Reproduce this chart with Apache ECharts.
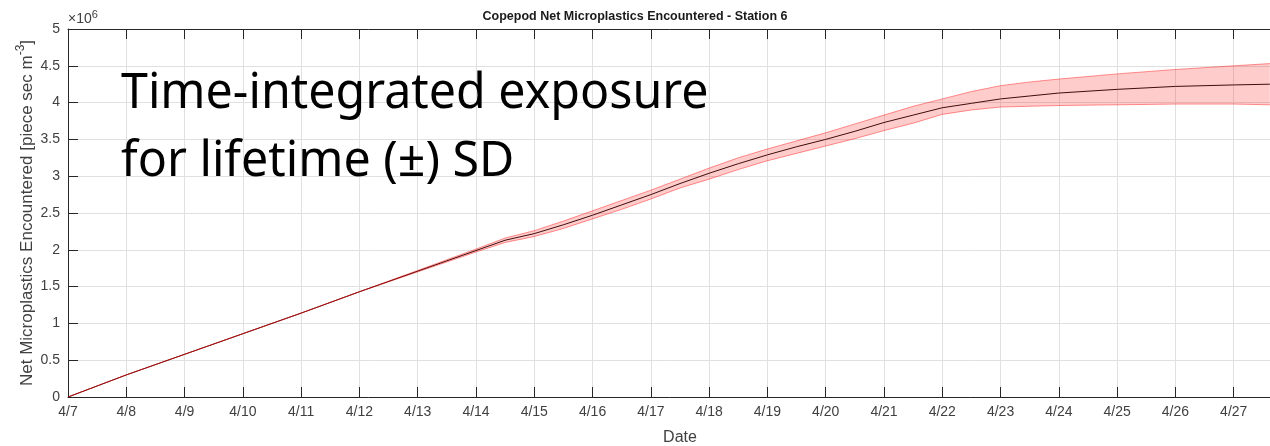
<!DOCTYPE html>
<html>
<head>
<meta charset="utf-8">
<script src="https://cdn.jsdelivr.net/npm/echarts@6/dist/echarts.min.js"></script>
<style>
  html, body { margin: 0; padding: 0; background: #fff; }
  #chart { width: 1270px; height: 446px; }
</style>
</head>
<body>
<div id="chart"></div>
<script>
// Days elapsed since 4/7 00:00
const dayOffset = [0, 1, 2, 3, 4, 5, 6, 7, 7.5, 8, 8.5, 9, 9.5, 10, 10.5, 11, 11.5, 12, 12.5, 13, 13.5, 14, 14.5, 15, 15.5, 16, 16.5, 17, 18, 19, 20, 20.62];
// Mean net microplastics encountered (x10^6 piece sec m^-3)
const meanExposure = [0, 0.30, 0.58, 0.86, 1.14, 1.43, 1.71, 1.99, 2.13, 2.22, 2.34, 2.47, 2.61, 2.75, 2.90, 3.04, 3.17, 3.29, 3.40, 3.50, 3.61, 3.73, 3.83, 3.93, 3.99, 4.05, 4.09, 4.13, 4.18, 4.22, 4.24, 4.25];
// Mean + 1 SD
const upperSD = [0, 0.30, 0.58, 0.86, 1.14, 1.43, 1.72, 2.01, 2.16, 2.26, 2.39, 2.53, 2.67, 2.81, 2.96, 3.11, 3.25, 3.37, 3.48, 3.59, 3.71, 3.83, 3.95, 4.05, 4.15, 4.23, 4.28, 4.32, 4.39, 4.45, 4.50, 4.53];
// Mean - 1 SD
const lowerSD = [0, 0.30, 0.58, 0.86, 1.14, 1.43, 1.70, 1.97, 2.10, 2.18, 2.29, 2.42, 2.55, 2.69, 2.84, 2.96, 3.09, 3.21, 3.31, 3.41, 3.51, 3.62, 3.72, 3.84, 3.90, 3.94, 3.95, 3.96, 3.97, 3.98, 3.98, 3.97];

const startMonth = 4, startDay = 7;
const yTickLabels = ['0', '0.5', '1', '1.5', '2', '2.5', '3', '3.5', '4', '4.5', '5'];

const pairs = ys => dayOffset.map((d, i) => [d, ys[i]]);

const axisInk = '#262626';
const labelInk = '#404040';
const gridInk = '#e0e0e0';
const fontFam = '"Liberation Sans", Arial, Helvetica, sans-serif';

// Translucent ±SD envelope: upper edge forward, lower edge back, mapped through the axes
function renderBand(params, api) {
  const pts = [];
  for (let i = 0; i < dayOffset.length; i++) pts.push(api.coord([dayOffset[i], upperSD[i]]));
  for (let i = dayOffset.length - 1; i >= 0; i--) pts.push(api.coord([dayOffset[i], lowerSD[i]]));
  return {
    type: 'polygon',
    shape: { points: pts },
    style: { fill: 'rgba(255,0,0,0.2)', stroke: null },
    clipPath: {
      type: 'rect',
      shape: {
        x: params.coordSys.x, y: params.coordSys.y,
        width: params.coordSys.width, height: params.coordSys.height
      }
    }
  };
}

const chart = echarts.init(document.getElementById('chart'));
chart.setOption({
  animation: false,
  backgroundColor: '#ffffff',
  title: {
    text: 'Copepod Net Microplastics Encountered - Station 6',
    left: 'center',
    top: 5,
    textStyle: { fontFamily: fontFam, fontSize: 12.5, fontWeight: 'bold', color: '#1a1a1a' }
  },
  grid: { left: 68, right: -22, top: 29, bottom: 49, containLabel: false, outerBoundsMode: 'none' },
  xAxis: [{
    type: 'value',
    min: 0, max: 21, interval: 1,
    name: 'Date',
    nameLocation: 'middle',
    nameGap: 33,
    nameTextStyle: { fontFamily: fontFam, fontSize: 16, color: labelInk },
    axisLine: { lineStyle: { color: axisInk, width: 1 } },
    axisTick: { inside: true, length: 10, lineStyle: { color: axisInk } },
    axisLabel: {
      fontFamily: fontFam, fontSize: 14, color: labelInk, margin: 8,
      formatter: v => Number.isInteger(v) ? startMonth + '/' + (startDay + v) : ''
    },
    splitLine: { show: true, lineStyle: { color: gridInk, width: 1 } }
  }, {
    type: 'value',
    position: 'top',
    min: 0, max: 21, interval: 1,
    axisLine: { show: true, lineStyle: { color: axisInk, width: 1 } },
    axisTick: { show: true, inside: true, length: 10, lineStyle: { color: axisInk } },
    axisLabel: { show: false },
    splitLine: { show: false }
  }],
  yAxis: {
    type: 'value',
    min: 0, max: 5, interval: 0.5,
    name: '{t|Net Microplastics Encountered [piece sec m}{s|-3}{t|]}',
    nameLocation: 'middle',
    nameRotate: 90,
    nameGap: 32,
    nameMoveOverlap: false,
    nameTextStyle: {
      rich: {
        t: { fontFamily: fontFam, fontSize: 17, color: labelInk, lineHeight: 21, verticalAlign: 'bottom' },
        s: { fontFamily: fontFam, fontSize: 12, color: labelInk, lineHeight: 21, verticalAlign: 'top' }
      }
    },
    axisLine: { show: true, lineStyle: { color: axisInk, width: 1 } },
    axisTick: { show: true, inside: true, length: 10, lineStyle: { color: axisInk } },
    axisLabel: {
      fontFamily: fontFam, fontSize: 14, color: labelInk, margin: 8,
      formatter: (v, i) => yTickLabels[i]
    },
    splitLine: { show: true, lineStyle: { color: gridInk, width: 1 } }
  },
  graphic: [{
    type: 'text',
    left: 68, top: 9,
    style: {
      text: '{m|×10}{s|6}',
      rich: {
        m: { fontFamily: fontFam, fontSize: 14, fill: labelInk, lineHeight: 17, verticalAlign: 'bottom' },
        s: { fontFamily: fontFam, fontSize: 11, fill: labelInk, lineHeight: 17, verticalAlign: 'top' }
      }
    }
  }, {
    type: 'text',
    x: 121, y: 60,
    scaleX: 0.967,
    z: 100,
    style: {
      text: 'Time-integrated exposure\nfor lifetime (±) SD',
      fontFamily: '"Noto Sans", "Open Sans", sans-serif',
      fontSize: 50,
      lineHeight: 68,
      fill: '#000000',
      verticalAlign: 'top'
    }
  }],
  series: [{
    name: 'mean',
    type: 'line',
    data: pairs(meanExposure),
    symbol: 'none',
    lineStyle: { color: '#111111', width: 1 },
    z: 1
  }, {
    name: 'band',
    type: 'custom',
    renderItem: renderBand,
    data: [[0, 0]],
    silent: true,
    z: 2
  }, {
    name: 'upper edge',
    type: 'line',
    data: pairs(upperSD),
    symbol: 'none',
    lineStyle: { color: 'rgba(255,0,0,0.42)', width: 1 },
    z: 3
  }, {
    name: 'lower edge',
    type: 'line',
    data: pairs(lowerSD),
    symbol: 'none',
    lineStyle: { color: 'rgba(255,0,0,0.42)', width: 1 },
    z: 3
  }]
});
</script>
</body>
</html>
